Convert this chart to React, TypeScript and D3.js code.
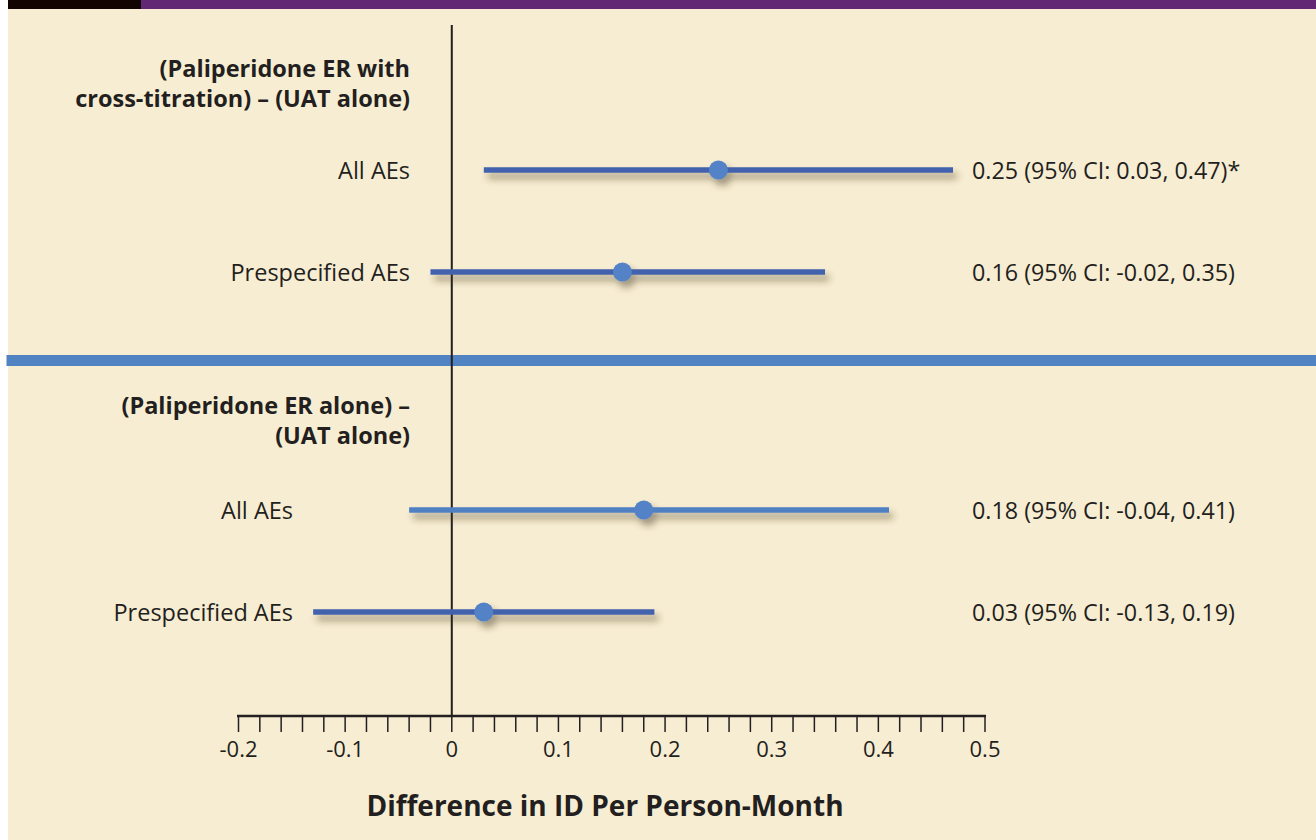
import React from "react";
import * as d3 from "d3";

// ---- data ----
const rowLabels = ["All AEs", "Prespecified AEs", "All AEs", "Prespecified AEs"];
const rowGroup = [0, 0, 1, 1];
const estimates = [0.25, 0.16, 0.18, 0.03];
const lowerCI = [0.03, -0.02, -0.04, -0.13];
const upperCI = [0.47, 0.35, 0.41, 0.19];
const annotations = [
  "0.25 (95% CI: 0.03, 0.47)*",
  "0.16 (95% CI: -0.02, 0.35)",
  "0.18 (95% CI: -0.04, 0.41)",
  "0.03 (95% CI: -0.13, 0.19)",
];
const groupTitles = [
  ["(Paliperidone ER with", "cross-titration) – (UAT alone)"],
  ["(Paliperidone ER alone) –", "(UAT alone)"],
];
const majorTicks = [-0.2, -0.1, 0, 0.1, 0.2, 0.3, 0.4, 0.5];
const minorTicks = d3.range(-0.2, 0.5001, 0.02);
const axisTitle = "Difference in ID Per Person-Month";

// layout slots (rows positioned along a vertical slot scale)
const rowSlots = [0, 3, 10, 13];

const W = 1316;
const H = 840;
const FONT = "'Open Sans', 'Noto Sans', sans-serif";
const TEXT = "#231f20";

export default function App() {
  const x = d3.scaleLinear().domain([-0.2, 0.5]).range([238.5, 985]);
  const y = d3.scaleLinear().domain([0, 13]).range([170, 612]);
  const axisY = 716;
  const labelX = [410, 293];
  const titleBase = [[77, 107], [414, 444]];
  const rowColors = ["#4262ae", "#4262ae", "#5080c4", "#4262ae"];
  const fmt = (t: number) => (t === 0 ? "0" : d3.format(".1f")(t).replace("−", "-"));

  return (
    <svg
      width={W}
      height={H}
      style={{ position: "absolute", left: 0, top: 0, display: "block" }}
      fontFamily={FONT}
    >
      <defs>
        <filter id="sh" x="-10%" y="-100%" width="120%" height="400%">
          <feDropShadow dx="4" dy="6" stdDeviation="3.5" floodColor="#3b2c12" floodOpacity="0.45" />
        </filter>
      </defs>
      <rect x={0} y={0} width={W} height={H} fill="#ffffff" />
      <rect x={8} y={0} width={W - 8} height={H} fill="#f7edd2" />
      <rect x={8} y={0} width={133} height={9} fill="#120400" />
      <rect x={141} y={0} width={W - 141} height={9} fill="#622874" />

      {/* separator */}
      <rect x={6.5} y={355} width={W - 6.5} height={11} fill="#5183c3" />

      {/* zero line */}
      <line x1={x(0)} x2={x(0)} y1={25} y2={axisY} stroke={TEXT} strokeWidth={2} />

      {/* group titles */}
      {groupTitles.map((lines, g) =>
        lines.map((t, i) => (
          <text
            key={g + "-" + i}
            x={410}
            y={titleBase[g][i]}
            textAnchor="end"
            fontWeight={700}
            fontSize={23.5}
            fill={TEXT}
          >
            {t}
          </text>
        ))
      )}

      {/* rows */}
      {rowLabels.map((lab, i) => {
        const yy = y(rowSlots[i]);
        return (
          <g key={i}>
            <text x={labelX[rowGroup[i]]} y={yy + 9} textAnchor="end" fontSize={23.5} fill={TEXT}>
              {lab}
            </text>
            <g filter="url(#sh)">
              <line
                x1={x(lowerCI[i])}
                x2={x(upperCI[i])}
                y1={yy}
                y2={yy}
                stroke={rowColors[i]}
                strokeWidth={5.5}
              />
              <circle cx={x(estimates[i])} cy={yy} r={9.5} fill="#5283c6" />
            </g>
            <text x={972} y={yy + 9} fontSize={23.3} fill={TEXT}>
              {annotations[i]}
            </text>
          </g>
        );
      })}

      {/* axis */}
      <line x1={237} x2={986} y1={axisY} y2={axisY} stroke={TEXT} strokeWidth={2.5} />
      {minorTicks.map((t, i) => (
        <line key={i} x1={x(t)} x2={x(t)} y1={axisY} y2={axisY + 16} stroke={TEXT} strokeWidth={1.5} />
      ))}
      {majorTicks.map((t, i) => (
        <text key={i} x={x(t)} y={757} textAnchor="middle" fontSize={22} fill={TEXT}>
          {fmt(t)}
        </text>
      ))}
      <text x={605} y={816} textAnchor="middle" fontWeight={700} fontSize={28} fill={TEXT}>
        {axisTitle}
      </text>
    </svg>
  );
}
